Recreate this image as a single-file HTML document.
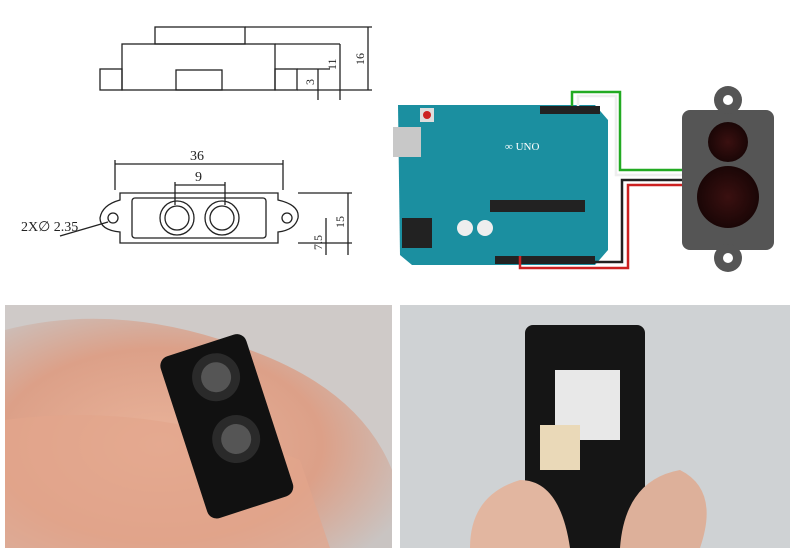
<!DOCTYPE html>
<html><head><meta charset="utf-8"><style>
html,body{margin:0;padding:0;background:#fff;}
svg{display:block;}
text{font-family:"Liberation Serif",serif;}
</style></head><body>
<svg width="800" height="553" viewBox="0 0 800 553" xmlns="http://www.w3.org/2000/svg">
<defs>
<radialGradient id="skin" cx="40%" cy="55%" r="70%"><stop offset="0" stop-color="#e9b39a"/><stop offset="0.6" stop-color="#dca088"/><stop offset="1" stop-color="#c9c4c2"/></radialGradient>
<radialGradient id="lens" cx="50%" cy="50%" r="50%"><stop offset="0" stop-color="#3a1010"/><stop offset="1" stop-color="#1a0606"/></radialGradient>
</defs>
<rect width="800" height="553" fill="#fff"/>
<!-- drawing top view -->
<g stroke="#222" fill="none" stroke-width="1.3">
<rect x="155" y="27" width="90" height="17"/>
<rect x="122" y="44" width="153" height="46"/>
<rect x="100" y="69" width="22" height="21"/>
<rect x="275" y="69" width="22" height="21"/>
<rect x="176" y="70" width="46" height="20"/>
<line x1="245" y1="27" x2="372" y2="27"/><line x1="275" y1="44" x2="340" y2="44"/>
<line x1="297" y1="69" x2="330" y2="69"/><line x1="297" y1="90" x2="372" y2="90"/>
<line x1="368" y1="27" x2="368" y2="90"/><line x1="340" y1="44" x2="340" y2="100"/><line x1="318" y1="69" x2="318" y2="100"/>
<!-- bottom view -->
<line x1="115" y1="160" x2="115" y2="190"/><line x1="283" y1="160" x2="283" y2="190"/>
<line x1="115" y1="164" x2="283" y2="164"/>
<line x1="175" y1="182" x2="175" y2="205"/><line x1="225" y1="182" x2="225" y2="205"/>
<line x1="175" y1="185" x2="225" y2="185"/>
<path d="M120 193 L278 193 L278 200 Q300 205 298 218 Q295 230 278 232 L278 243 L120 243 L120 232 Q100 230 100 218 Q102 205 120 200 Z"/>
<circle cx="113" cy="218" r="5"/><circle cx="287" cy="218" r="5"/>
<rect x="132" y="198" width="134" height="40" rx="3"/>
<circle cx="177" cy="218" r="17"/><circle cx="177" cy="218" r="12"/>
<circle cx="222" cy="218" r="17"/><circle cx="222" cy="218" r="12"/>
<line x1="298" y1="193" x2="352" y2="193"/><line x1="298" y1="243" x2="352" y2="243"/>
<line x1="348" y1="193" x2="348" y2="255"/><line x1="326" y1="218" x2="326" y2="255"/>
<line x1="60" y1="236" x2="108" y2="222"/>
</g>
<g font-size="13" fill="#222">
<text x="336" y="70" transform="rotate(-90 336 70)" font-size="12">11</text>
<text x="364" y="65" transform="rotate(-90 364 65)" font-size="12">16</text>
<text x="314" y="85" transform="rotate(-90 314 85)" font-size="12">3</text>
<text x="190" y="160" font-size="14">36</text>
<text x="195" y="181" font-size="14">9</text>
<text x="21" y="231" font-size="14">2X∅ 2.35</text>
<text x="344" y="228" transform="rotate(-90 344 228)" font-size="12">15</text>
<text x="322" y="250" transform="rotate(-90 322 250)" font-size="12">7.5</text>
</g>
<!-- arduino -->
<path d="M398 105 L595 105 L608 120 L608 250 L595 265 L412 265 L400 255 Z" fill="#1b8fa0"/>
<rect x="393" y="127" width="28" height="30" fill="#c8c8c8"/>
<rect x="402" y="218" width="30" height="30" fill="#222"/>
<rect x="420" y="108" width="14" height="14" fill="#ddd"/><circle cx="427" cy="115" r="4" fill="#c22"/>
<rect x="540" y="106" width="60" height="8" fill="#222"/>
<rect x="495" y="256" width="100" height="8" fill="#222"/>
<rect x="490" y="200" width="95" height="12" fill="#222"/>
<circle cx="465" cy="228" r="8" fill="#eee"/><circle cx="485" cy="228" r="8" fill="#eee"/>
<text x="505" y="150" font-family="Liberation Sans" font-size="11" fill="#fff">∞ UNO</text>
<!-- wires -->
<g fill="none" stroke-width="2.5">
<path d="M572 106 L572 92 L620 92 L620 170 L685 170" stroke="#2a2"/>
<path d="M578 106 L578 96 L616 96 L616 175 L685 175" stroke="#eee"/>
<path d="M520 256 L520 268 L628 268 L628 185 L685 185" stroke="#c22"/>
<path d="M525 256 L525 262 L622 262 L622 180 L685 180" stroke="#222"/>
</g>
<!-- sensor -->
<rect x="682" y="110" width="92" height="140" rx="8" fill="#555"/>
<circle cx="728" cy="100" r="14" fill="#555"/><circle cx="728" cy="258" r="14" fill="#555"/>
<circle cx="728" cy="100" r="5" fill="#fff"/><circle cx="728" cy="258" r="5" fill="#fff"/>
<circle cx="728" cy="142" r="20" fill="url(#lens)"/>
<circle cx="728" cy="197" r="31" fill="url(#lens)"/>
<!-- bottom photos -->
<rect x="5" y="305" width="387" height="243" fill="#cfcac8"/>
<path d="M5 330 Q120 300 250 350 Q360 390 392 470 L392 548 L5 548 Z" fill="url(#skin)"/>
<path d="M5 420 Q150 400 300 460 L330 548 L5 548 Z" fill="#e2a58c" opacity="0.7"/>
<g transform="rotate(-18 230 420)">
<rect x="180" y="340" width="90" height="170" rx="10" fill="#111"/>
<circle cx="230" cy="375" r="24" fill="#2a2a2a"/><circle cx="230" cy="375" r="15" fill="#555"/>
<circle cx="230" cy="440" r="24" fill="#2a2a2a"/><circle cx="230" cy="440" r="15" fill="#555"/>
</g>
<rect x="400" y="305" width="390" height="243" fill="#d9d9d9"/>
<path d="M400 305 L790 305 L790 548 L400 548 Z" fill="#cfd2d4"/>
<rect x="525" y="325" width="120" height="223" rx="8" fill="#151515"/>
<rect x="555" y="370" width="65" height="70" fill="#e8e8e8"/>
<rect x="540" y="425" width="40" height="45" fill="#ead9b8"/>
<path d="M470 548 Q470 495 520 480 Q560 480 570 548 Z" fill="#e2b6a0"/>
<path d="M620 548 Q625 480 680 470 Q720 490 700 548 Z" fill="#ddb09a"/>
</svg>
</body></html>
